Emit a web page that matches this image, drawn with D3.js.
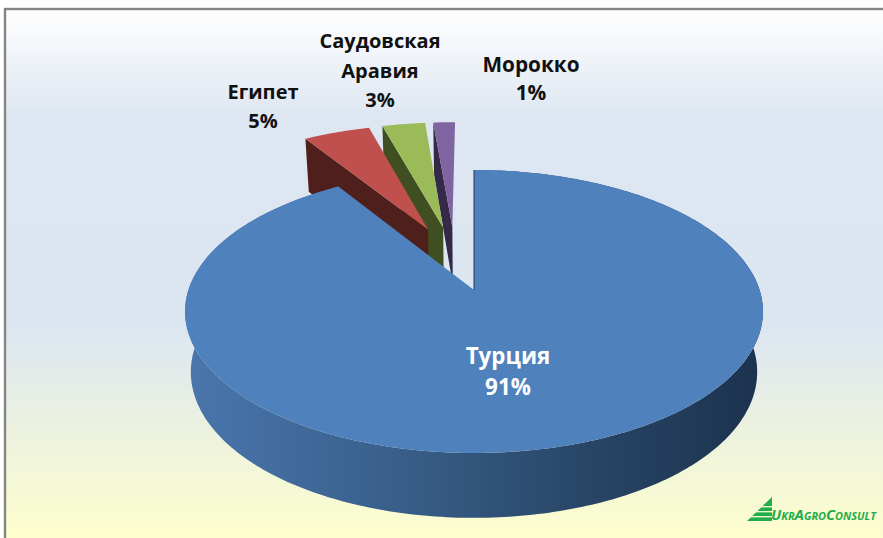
<!DOCTYPE html>
<html>
<head>
<meta charset="utf-8">
<script src="https://cdn.jsdelivr.net/npm/d3@7"></script>
<style>
  html, body { margin: 0; padding: 0; background: #fff; }
  svg { display: block; }
  text { font-family: "Open Sans", "Noto Sans", sans-serif; font-weight: 700; }
</style>
</head>
<body>
<div id="body"></div>
<script>
// chart values
let categories = ["Турция", "Египет", "Саудовская Аравия", "Морокко"]
let shares = [91, 4.56, 2.95, 1.49]
let sliceColors = ["#4f81bd", "#c0504d", "#9bbb59", "#8064a2"]
let wallColors = ["#22385a", "#4f1f1c", "#404f22", "#342a48"]

let width = 883,
  height = 538

// perspective of the pie plane, u goes right and v goes to the viewer
let apexX = 474,
  apexY = 290,
  radiusX = 285.6,
  radiusY = 138.2,
  persp = 0.152,
  depth = 59.7,
  explode = 0.25

let svg = d3.select("#body")
  .append("svg")
  .attr("width", width)
  .attr("height", height)

let defs = svg.append("defs")

// panel background
let bg = defs.append("linearGradient")
  .attr("id", "panelFill")
  .attr("x1", 0).attr("y1", 0).attr("x2", 0).attr("y2", 1)
bg.append("stop").attr("offset", "0%").attr("stop-color", "#ffffff")
bg.append("stop").attr("offset", "20%").attr("stop-color", "#dde6f1")
bg.append("stop").attr("offset", "58%").attr("stop-color", "#dce6f1")
bg.append("stop").attr("offset", "98%").attr("stop-color", "#ffffcc")

// side of the big slice gets darker to the right
let side = defs.append("linearGradient")
  .attr("id", "sideFill")
  .attr("gradientUnits", "userSpaceOnUse")
  .attr("x1", 186).attr("y1", 0).attr("x2", 764).attr("y2", 0)
side.append("stop").attr("offset", "0%").attr("stop-color", "#4a76ad")
side.append("stop").attr("offset", "35%").attr("stop-color", "#39608c")
side.append("stop").attr("offset", "70%").attr("stop-color", "#284565")
side.append("stop").attr("offset", "100%").attr("stop-color", "#1b324e")

svg.append("rect")
  .attr("x", 5).attr("y", 9)
  .attr("width", width + 10).attr("height", height + 10)
  .attr("fill", "url(#panelFill)")
  .attr("stroke", "#858585")
  .attr("stroke-width", 2.4)

let project = function (p) {
  let w = 1 - persp * p[1]
  return [apexX + radiusX * p[0] / w, apexY + radiusY * p[1] / w]
}

// same point on the lower face of the pie
let lower = function (p) {
  let q = project(p)
  return [apexX + (q[0] - apexX) * 0.98, q[1] + depth * (1 + 0.087 * p[1])]
}

let pie = d3.pie().sort(null).value(function (d) { return d })
let arcs = pie(shares)

// every slice is pushed out along its middle, the big one sits at the origin
let mid0 = (arcs[0].startAngle + arcs[0].endAngle) / 2
let baseU = -explode * Math.sin(mid0),
  baseV = explode * Math.cos(mid0)

let slices = arcs.map(function (a, i) {
  let mid = (a.startAngle + a.endAngle) / 2
  let cu = baseU + explode * Math.sin(mid)
  let cv = baseV - explode * Math.cos(mid)
  let n = Math.ceil((a.endAngle - a.startAngle) * 180 / Math.PI)
  let rim = d3.range(n + 1).map(function (k) {
    let t = a.startAngle + (a.endAngle - a.startAngle) * k / n
    return [cu + Math.sin(t), cv - Math.cos(t)]
  })
  return { i: i, apex: [cu, cv], rim: rim }
})

let line = d3.line()
let chart = svg.append("g")

// back to front: the big slice covers the walls of the small ones
let order = [3, 2, 1, 0]
order.forEach(function (i) {
  let s = slices[i]
  if (i === 0) {
    // one small quad per rim step, so the outline has no notch at the sides
    let quads = d3.pairs(s.rim).map(function (pair) {
      return line([project(pair[0]), project(pair[1]), lower(pair[1]), lower(pair[0])]) + "Z"
    })
    chart.append("path")
      .attr("d", quads.join(""))
      .attr("fill", "url(#sideFill)")
  } else {
    let first = s.rim[0]
    chart.append("path")
      .attr("d", line([project(first), project(s.apex), lower(s.apex), lower(first)]) + "Z")
      .attr("fill", wallColors[i])
  }
  let outline = [project(s.apex)].concat(s.rim.map(project))
  chart.append("path")
    .attr("d", line(outline) + "Z")
    .attr("fill", sliceColors[i])
  if (i === 0) {
    // thin visible wall along the vertical cut
    chart.append("path")
      .attr("d", line([project(s.apex), project(s.rim[0])]))
      .attr("fill", "none")
      .attr("stroke", wallColors[0])
      .attr("stroke-width", 1)
  }
})

// labels
let pct = function (v) { return Math.round(v) + "%" }
let labelData = [
  { x: 508, y: 363.5, gap: 31, size: 22.4, lines: [categories[0], pct(shares[0])], fill: "#ffffff" },
  { x: 263, y: 99, gap: 28.5, size: 20, lines: [categories[1], pct(shares[1])], fill: "#111111" },
  { x: 380, y: 48, gap: 29.5, size: 20, lines: ["Саудовская", "Аравия", pct(shares[2])], fill: "#111111" },
  { x: 531, y: 72, gap: 28, size: 20.8, lines: [categories[3], pct(shares[3])], fill: "#111111" }
]

labelData.forEach(function (d) {
  d.lines.forEach(function (t, k) {
    svg.append("text")
      .attr("x", d.x)
      .attr("y", d.y + k * d.gap)
      .attr("text-anchor", "middle")
      .attr("font-size", d.size)
      .attr("fill", d.fill)
      .text(t)
  })
})

// logo
let logo = svg.append("g").attr("transform", "translate(747,497)")
logo.append("path")
  .attr("d", line([[25, 0], [25, 24], [0, 24]]) + "Z")
  .attr("fill", "#1fae4b")
d3.range(3).forEach(function (k) {
  logo.append("rect")
    .attr("x", 0).attr("y", 9 + k * 5)
    .attr("width", 26).attr("height", 1.4)
    .attr("fill", "#f6f8cf")
})
logo.append("text")
  .attr("x", 24)
  .attr("y", 23)
  .attr("font-size", 15)
  .attr("font-style", "italic")
  .attr("font-variant", "small-caps")
  .attr("textLength", 105)
  .attr("lengthAdjust", "spacingAndGlyphs")
  .attr("fill", "#1fae4b")
  .text("UkrAgroConsult")
</script>
</body>
</html>
